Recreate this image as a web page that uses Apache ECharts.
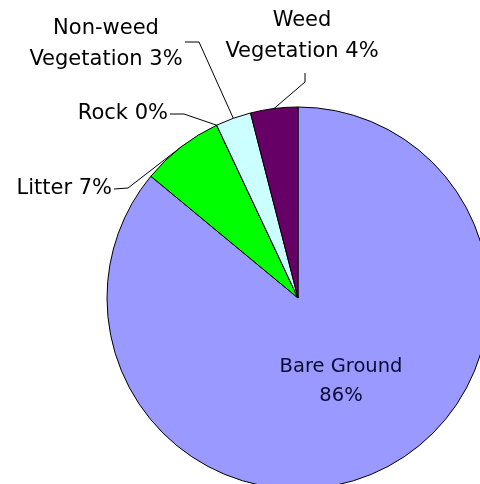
<!DOCTYPE html>
<html>
<head>
<meta charset="utf-8">
<style>
  html, body { margin: 0; padding: 0; background: #ffffff; }
  #chart { width: 480px; height: 484px; }
</style>
<script src="https://cdn.jsdelivr.net/npm/echarts@6/dist/echarts.min.js"></script>
</head>
<body>
<div id="chart"></div>
<script>
// Ground cover categories, in clockwise order from 12 o'clock
const categories = ['Bare Ground', 'Litter', 'Rock', 'Non-weed\nVegetation', 'Weed\nVegetation'];
const percentages = [86, 7, 0, 3, 4];
const sliceColors = ['#9999ff', '#00ff00', '#808080', '#ccffff', '#660066'];

// Label placement and leader-line routing per slice (pixels)
const labelPlacement = [
  { x: 341, y: 381, align: 'center', va: 'middle', inside: true },
  { x: 112, y: 189, align: 'right', va: 'middle', bend: [128, 188], end: [114, 189] },
  { x: 168, y: 114, align: 'right', va: 'middle', bend: [184, 114], end: [170, 114] },
  { x: 106, y: 13, align: 'center', va: 'top', bend: [199, 42], end: [185, 42] },
  { x: 302, y: 5, align: 'center', va: 'top', bend: [305, 82], end: [305, 73] }
];

const CX = 298, CY = 298, R = 191;

// Point on the rim at the middle of a slice, where its leader line starts
function edgeAnchor(idx) {
  const total = percentages.reduce((a, b) => a + b, 0);
  let before = 0;
  for (let i = 0; i < idx; i++) before += percentages[i];
  const mid = (before + percentages[idx] / 2) / total * Math.PI * 2;
  return [CX + R * Math.sin(mid), CY - R * Math.cos(mid)];
}

const chart = echarts.init(document.getElementById('chart'), null, { renderer: 'canvas' });

chart.setOption({
  backgroundColor: '#ffffff',
  animation: false,
  series: [{
    type: 'pie',
    center: [CX, CY],
    radius: R,
    startAngle: 90,
    clockwise: true,
    avoidLabelOverlap: false,
    silent: true,
    itemStyle: { borderColor: '#000000', borderWidth: 1 },
    label: {
      show: true,
      position: 'outside',
      fontFamily: 'DejaVu Sans',
      fontSize: 21,
      lineHeight: 31,
      color: '#000000',
      formatter: function (p) {
        return p.name + (p.dataIndex === 0 ? '\n' : ' ') + p.value + '%';
      }
    },
    labelLine: {
      show: true,
      lineStyle: { color: '#000000', width: 1 }
    },
    labelLayout: function (params) {
      const pl = labelPlacement[params.dataIndex];
      const out = { x: pl.x, y: pl.y, align: pl.align, verticalAlign: pl.va };
      if (!pl.inside) {
        out.labelLinePoints = [edgeAnchor(params.dataIndex), pl.bend, pl.end];
      }
      return out;
    },
    data: categories.map(function (name, i) {
      const item = {
        name: name,
        value: percentages[i],
        itemStyle: { color: sliceColors[i] }
      };
      if (i === 0) {
        item.label = { color: '#0a0a33', fontSize: 19.5, lineHeight: 29 };
        item.labelLine = { show: false };
      }
      return item;
    })
  }]
});
</script>
</body>
</html>
